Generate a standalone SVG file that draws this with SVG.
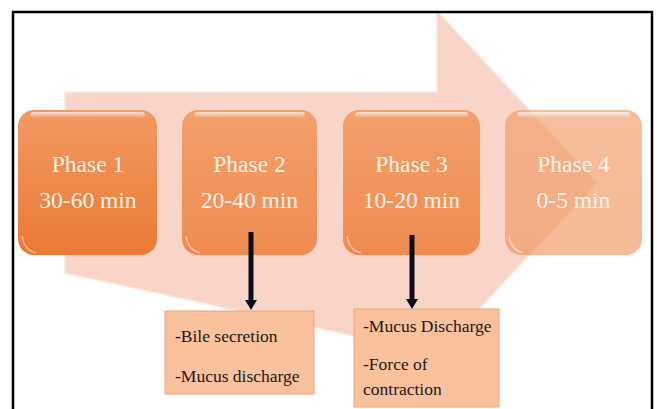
<svg xmlns="http://www.w3.org/2000/svg" width="657" height="409" viewBox="0 0 657 409">
<defs>
<linearGradient id="g1" x1="0" y1="0" x2="0" y2="1"><stop offset="0" stop-color="#f39962"/><stop offset="1" stop-color="#e97a34"/></linearGradient>
<linearGradient id="g2" x1="0" y1="0" x2="0" y2="1"><stop offset="0" stop-color="#f3a06c"/><stop offset="1" stop-color="#ef8b50"/></linearGradient>
<linearGradient id="g4" x1="0" y1="0" x2="0" y2="1"><stop offset="0" stop-color="#f29c68"/><stop offset="1" stop-color="#f0955e"/></linearGradient>
<linearGradient id="gloss" x1="0" y1="0" x2="0" y2="1"><stop offset="0" stop-color="#ffffff" stop-opacity="0.7"/><stop offset="1" stop-color="#ffffff" stop-opacity="0"/></linearGradient>
</defs>
<style>
.ph{font-family:"Liberation Serif","Times New Roman",serif;font-size:23.5px;fill:#fdf3ea;text-anchor:middle}
.lb{font-family:"Liberation Serif","Times New Roman",serif;font-size:17.5px;fill:#1a1a1a}
.note{fill:#f9c19c;stroke:#eea577;stroke-width:1}
.gl{fill:url(#gloss)}
.bev{fill:none;stroke:#fff;stroke-opacity:0.55;stroke-width:1.2}
.conn{stroke:#0d0d1a;stroke-width:5;fill:none}
.head{fill:#0d0d1a}
</style>
<g id="big-arrow">
<polygon points="65,92 437,92 437,11 597,182.5 437,354 65,273" fill="#f9d5c9" stroke="#fce6de" stroke-width="1.5"/>
</g>
<g id="phase1">
<rect x="18" y="110" width="139" height="145" rx="16" fill="url(#g1)"/>
<rect x="30" y="112" width="115" height="6" rx="3" class="gl"/>
<path d="M22,236 Q24,250 36,253" class="bev"/>
<text class="ph" x="88" y="172">Phase 1</text>
<text class="ph" x="88" y="208">30-60 min</text>
</g>
<g id="phase2">
<rect x="182" y="110" width="135" height="145" rx="16" fill="url(#g2)"/>
<rect x="194" y="112" width="111" height="6" rx="3" class="gl"/>
<path d="M186,236 Q188,250 200,253" class="bev"/>
<text class="ph" x="249.5" y="172">Phase 2</text>
<text class="ph" x="249.5" y="208">20-40 min</text>
</g>
<g id="phase3">
<rect x="343" y="110" width="137" height="145" rx="16" fill="url(#g2)"/>
<rect x="355" y="112" width="113" height="6" rx="3" class="gl"/>
<path d="M347,236 Q349,250 361,253" class="bev"/>
<text class="ph" x="411.5" y="172">Phase 3</text>
<text class="ph" x="411.5" y="208">10-20 min</text>
</g>
<g id="phase4">
<rect x="505" y="110" width="137" height="145" rx="16" fill="url(#g4)" fill-opacity="0.65"/>
<rect x="517" y="112" width="113" height="6" rx="3" class="gl"/>
<path d="M509,236 Q511,250 523,253" class="bev"/>
<text class="ph" x="573.5" y="172">Phase 4</text>
<text class="ph" x="573.5" y="208">0-5 min</text>
</g>
<g id="connectors">
<line class="conn" x1="251" y1="232" x2="251" y2="302"/>
<polygon class="head" points="245,300 257,300 251,310"/>
<line class="conn" x1="412" y1="235" x2="412" y2="300"/>
<polygon class="head" points="406,299 418,299 412,309"/>
</g>
<g id="note-phase2">
<rect class="note" x="165" y="311" width="149" height="83"/>
<text class="lb" x="175" y="342"><tspan font-weight="bold">-</tspan>Bile secretion</text>
<text class="lb" x="175" y="382">-Mucus discharge</text>
</g>
<g id="note-phase3">
<rect class="note" x="354" y="309" width="145" height="98"/>
<text class="lb" x="363" y="332">-Mucus Discharge</text>
<text class="lb" x="363" y="370">-Force of</text>
<text class="lb" x="363" y="395">contraction</text>
</g>
<g id="frame">
<rect x="13" y="12" width="639" height="420" fill="none" stroke="#000" stroke-width="2.5"/>
</g>
</svg>
